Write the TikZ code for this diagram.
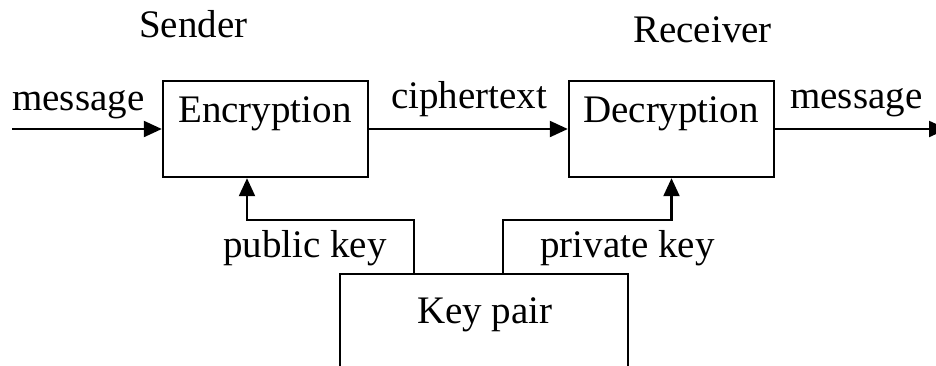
\documentclass[tikz,border=0pt]{standalone}
\usepackage{fontspec}
\setmainfont{Liberation Serif}
\usetikzlibrary{arrows.meta}
\begin{document}
\begin{tikzpicture}[x=1pt,y=-1pt,
  blk/.style={draw, line width=2.4pt, inner sep=0pt},
  lbl/.style={font=\fontsize{39}{44}\selectfont, inner sep=0pt, anchor=base west},
  wire/.style={line width=2.2pt},
  arr/.style={wire, -{Triangle[length=18pt,width=16pt]}}]
\useasboundingbox (0,0) rectangle (936,365);
\clip (0,0) rectangle (936,365);
\fill[white] (0,0) rectangle (936,365);

% blocks
\node[blk, minimum width=205pt, minimum height=96pt] (enc) at (265.5,129) {};
\node[blk, minimum width=205pt, minimum height=96pt] (dec) at (671.5,129) {};
\node[blk, minimum width=288pt, minimum height=200pt] (kp) at (484,374) {};

% texts
\node[lbl] (tsend) at (139,37) {Sender};
\node[lbl] (trecv) at (633,42) {Receiver};
\node[lbl] (tenc) at (178,122) {Encryption};
\node[lbl] (tdec) at (583,122) {Decryption};
\node[lbl] (tkp) at (417,323) {Key pair};
\node[lbl] (tmin) at (12,110) {message};
\node[lbl] (tcip) at (391,108) {ciphertext};
\node[lbl] (tmout) at (790,108) {message};
\node[lbl] (tpub) at (223,257) {public key};
\node[lbl] (tpriv) at (540,257) {private key};

% free ends and branch points
\coordinate (in) at (12,129);
\coordinate (out) at (947,129);
\coordinate (pubfoot) at (414,274);
\coordinate (privfoot) at (503,274);
\coordinate (pubx) at (247,0);
\coordinate (privx) at (671.5,0);

% connectors
\draw[arr] (in) -- (enc.west);
\draw[arr] (enc.east) -- (dec.west);
\draw[arr] (dec.east) -- (out);
\draw[arr] (pubfoot) -- ++(0,-54) -| (enc.south -| pubx);
\draw[arr] (privfoot) -- ++(0,-54) -| (dec.south -| privx);
\end{tikzpicture}
\end{document}
